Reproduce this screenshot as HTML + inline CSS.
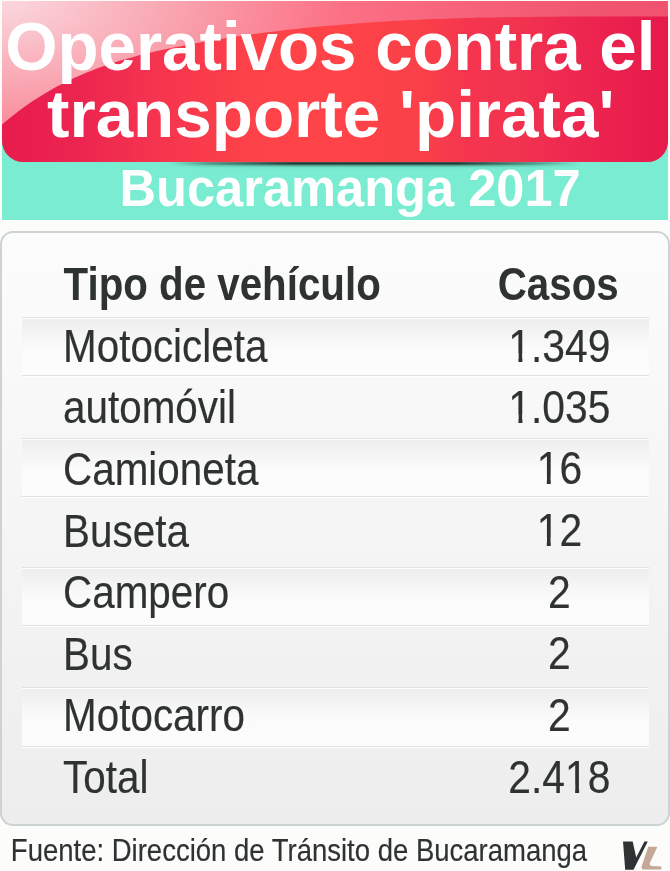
<!DOCTYPE html>
<html>
<head>
<meta charset="utf-8">
<style>
html,body{margin:0;padding:0;}
body{width:670px;height:871px;background:#fcfcfb;position:relative;overflow:hidden;font-family:"Liberation Sans",sans-serif;}
.abs{position:absolute;}
.t{position:absolute;white-space:nowrap;line-height:1;transform-origin:0 0.8467em;}
#teal{left:2px;top:100px;width:666px;height:120px;background:#7aecd2;}
#shadow{left:170px;top:162px;width:410px;height:7px;background:linear-gradient(to bottom, rgba(30,36,36,0.55) 0, rgba(30,36,36,0.95) 1px, rgba(30,40,40,0.85) 2px, rgba(40,90,80,0.5) 3.5px, rgba(60,160,140,0.2) 5px, rgba(122,236,210,0) 7px);-webkit-mask-image:linear-gradient(to right, transparent 0, rgba(0,0,0,0.5) 10%, #000 30%, #000 70%, rgba(0,0,0,0.5) 88%, transparent 100%);}
#tbl{left:0;top:231px;width:670px;height:595px;border:2px solid #cbd4d3;border-radius:13px;background:linear-gradient(#fcfcfc,#f5f5f5 50%,#ededed);box-sizing:border-box;}
.g{position:absolute;left:22px;width:627px;background:linear-gradient(#eeeeee 0,#f0f0f0 6px,#f6f6f6 18px,#fbfbfb 30px,#fcfcfc 100%);}
.ln{position:absolute;left:22px;width:627px;height:1px;background:#e0e2e2;}
.wl{position:absolute;left:22px;width:627px;height:1px;background:#fefefe;}
.one{display:inline-block;clip-path:polygon(0 0,100% 0,100% 0.65em,0.345em 0.65em,0.345em 100%,0.248em 100%,0.248em 0.65em,0 0.65em);}
</style>
</head>
<body>
<div id="teal" class="abs"></div>
<svg class="abs" style="left:0;top:0" width="670" height="175" viewBox="0 0 670 175">
  <defs>
    <linearGradient id="base" gradientUnits="userSpaceOnUse" x1="2" y1="0" x2="668" y2="0">
      <stop offset="0.000" stop-color="#e81c4d"/>
      <stop offset="0.117" stop-color="#ec2550"/>
      <stop offset="0.222" stop-color="#f5334f"/>
      <stop offset="0.372" stop-color="#fd4249"/>
      <stop offset="0.508" stop-color="#fe4448"/>
      <stop offset="0.628" stop-color="#fa4048"/>
      <stop offset="0.703" stop-color="#f5354f"/>
      <stop offset="0.778" stop-color="#f2334f"/>
      <stop offset="0.853" stop-color="#ee2850"/>
      <stop offset="1.000" stop-color="#e6194b"/>
    </linearGradient>
    <radialGradient id="gloss" gradientUnits="userSpaceOnUse" cx="0" cy="0" r="700" gradientTransform="scale(1 0.5)">
      <stop offset="0" stop-color="#fcd8de"/>
      <stop offset="0.12" stop-color="#fac0c9"/>
      <stop offset="0.27" stop-color="#f9a0ac"/>
      <stop offset="0.49" stop-color="#fc7085"/>
      <stop offset="0.86" stop-color="#f0546e"/>
      <stop offset="1" stop-color="#ee5270"/>
    </radialGradient>
  </defs>
  <path d="M2 1 H668 V141.5 A20.5 20.5 0 0 1 647.5 162 H23 A21 21 0 0 1 2 141 Z" fill="url(#base)"/>
  <path d="M2 1 H668 L668 16.5 L662 16.5 L656 16.5 L650 16.5 L644 16.5 L638 16.5 L632 16.5 L626 16.5 L620 16.5 L614 16.5 L608 16.5 L602 16.5 L596 16.5 L590 16.5 L584 16.5 L578 16.5 L572 16.6 L566 16.6 L560 16.6 L554 16.7 L548 16.7 L542 16.7 L536 16.8 L530 16.9 L524 16.9 L518 17.0 L512 17.1 L506 17.2 L500 17.3 L494 17.4 L488 17.5 L482 17.6 L476 17.8 L470 17.9 L464 18.1 L458 18.3 L452 18.5 L446 18.7 L440 18.9 L434 19.1 L428 19.3 L422 19.6 L416 19.9 L410 20.1 L404 20.4 L398 20.8 L392 21.1 L386 21.4 L380 21.8 L374 22.2 L368 22.6 L362 23.0 L356 23.4 L350 23.9 L344 24.4 L338 24.9 L332 25.4 L326 25.9 L320 26.5 L314 27.0 L308 27.6 L302 28.2 L296 28.9 L290 29.6 L284 30.2 L278 31.0 L272 31.7 L266 32.4 L260 33.2 L254 34.0 L248 34.9 L242 35.7 L236 36.6 L230 37.5 L224 38.5 L218 39.4 L212 40.4 L206 41.5 L200 42.5 L194 43.6 L188 44.7 L182 45.9 L176 47.0 L170 48.2 L164 49.5 L158 50.8 L152 52.2 L146 53.6 L140 55.1 L134 56.7 L128 58.4 L122 60.1 L116 62.0 L110 63.9 L104 66.0 L98 68.1 L92 70.4 L86 72.8 L80 75.4 L74 78.1 L68 80.9 L62 83.9 L56 87.1 L50 90.4 L44 93.9 L38 97.7 L32 101.6 L26 105.7 L20 110.1 L14 114.7 L8 119.5 L2 124.5 L2 124.5 Z" fill="url(#gloss)"/>
</svg>
<div id="shadow" class="abs"></div>
<div class="t" style="left:5.14px;top:13.06px;font-size:67.25px;font-weight:bold;transform:scaleY(1.02);color:#fff;">Operativos contra el</div>
<div class="t" style="left:46.98px;top:79.63px;font-size:67.4px;font-weight:bold;color:#fff;">transporte 'pirata'</div>
<div class="t" style="left:119.52px;top:163.96px;font-size:50.6px;font-weight:bold;transform:scaleY(1.02);color:#fff;">Bucaramanga 2017</div>
<div id="tbl" class="abs"></div>
<div class="ln" style="top:317px"></div><div class="wl" style="top:318px"></div>
<div class="g" style="top:319px;height:56px"></div>
<div class="ln" style="top:375px"></div><div class="wl" style="top:376px"></div>
<div class="ln" style="top:438px"></div><div class="wl" style="top:439px"></div>
<div class="g" style="top:440px;height:56px"></div>
<div class="ln" style="top:496px"></div><div class="wl" style="top:497px"></div>
<div class="ln" style="top:567px"></div><div class="wl" style="top:568px"></div>
<div class="g" style="top:569px;height:56px"></div>
<div class="ln" style="top:625px"></div><div class="wl" style="top:626px"></div>
<div class="ln" style="top:687px"></div><div class="wl" style="top:688px"></div>
<div class="g" style="top:689px;height:57px"></div>
<div class="ln" style="top:746px"></div><div class="wl" style="top:747px"></div>
<div class="t" style="left:63.55px;top:266.88px;font-size:40.3px;font-weight:bold;transform:scaleY(1.14);color:#2e3233;">Tipo de vehículo</div>
<div class="t" style="left:408.20px;width:300px;text-align:center;top:266.88px;font-size:40.3px;font-weight:bold;transform:scaleY(1.14);transform-origin:150.0px 0.8467em;color:#2e3233;">Casos</div>
<div class="t" style="left:63.10px;top:327.89px;font-size:40.4px;transform:scaleY(1.154);color:#2e3233;-webkit-text-stroke:0.15px #2e3233;">Motocicleta</div>
<div class="t" style="left:409.40px;width:300px;text-align:center;top:327.55px;font-size:40.8px;transform:scaleY(1.154);transform-origin:150.0px 0.8467em;color:#2e3233;-webkit-text-stroke:0.15px #2e3233;"><span class="one">1</span>.349</div>
<div class="t" style="left:63.10px;top:389.29px;font-size:40.4px;transform:scaleY(1.154);color:#2e3233;-webkit-text-stroke:0.15px #2e3233;">automóvil</div>
<div class="t" style="left:409.40px;width:300px;text-align:center;top:388.95px;font-size:40.8px;transform:scaleY(1.154);transform-origin:150.0px 0.8467em;color:#2e3233;-webkit-text-stroke:0.15px #2e3233;"><span class="one">1</span>.035</div>
<div class="t" style="left:63.10px;top:450.79px;font-size:40.4px;transform:scaleY(1.154);color:#2e3233;-webkit-text-stroke:0.15px #2e3233;">Camioneta</div>
<div class="t" style="left:409.40px;width:300px;text-align:center;top:450.45px;font-size:40.8px;transform:scaleY(1.154);transform-origin:150.0px 0.8467em;color:#2e3233;-webkit-text-stroke:0.15px #2e3233;"><span class="one">1</span>6</div>
<div class="t" style="left:63.10px;top:512.59px;font-size:40.4px;transform:scaleY(1.154);color:#2e3233;-webkit-text-stroke:0.15px #2e3233;">Buseta</div>
<div class="t" style="left:409.40px;width:300px;text-align:center;top:512.25px;font-size:40.8px;transform:scaleY(1.154);transform-origin:150.0px 0.8467em;color:#2e3233;-webkit-text-stroke:0.15px #2e3233;"><span class="one">1</span>2</div>
<div class="t" style="left:63.10px;top:574.49px;font-size:40.4px;transform:scaleY(1.154);color:#2e3233;-webkit-text-stroke:0.15px #2e3233;">Campero</div>
<div class="t" style="left:409.40px;width:300px;text-align:center;top:574.15px;font-size:40.8px;transform:scaleY(1.154);transform-origin:150.0px 0.8467em;color:#2e3233;-webkit-text-stroke:0.15px #2e3233;">2</div>
<div class="t" style="left:63.10px;top:635.79px;font-size:40.4px;transform:scaleY(1.154);color:#2e3233;-webkit-text-stroke:0.15px #2e3233;">Bus</div>
<div class="t" style="left:409.40px;width:300px;text-align:center;top:635.45px;font-size:40.8px;transform:scaleY(1.154);transform-origin:150.0px 0.8467em;color:#2e3233;-webkit-text-stroke:0.15px #2e3233;">2</div>
<div class="t" style="left:63.10px;top:697.49px;font-size:40.4px;transform:scaleY(1.154);color:#2e3233;-webkit-text-stroke:0.15px #2e3233;">Motocarro</div>
<div class="t" style="left:409.40px;width:300px;text-align:center;top:697.15px;font-size:40.8px;transform:scaleY(1.154);transform-origin:150.0px 0.8467em;color:#2e3233;-webkit-text-stroke:0.15px #2e3233;">2</div>
<div class="t" style="left:63.10px;top:759.09px;font-size:40.4px;transform:scaleY(1.154);color:#2e3233;-webkit-text-stroke:0.15px #2e3233;">Total</div>
<div class="t" style="left:409.40px;width:300px;text-align:center;top:758.75px;font-size:40.8px;transform:scaleY(1.154);transform-origin:150.0px 0.8467em;color:#2e3233;-webkit-text-stroke:0.15px #2e3233;">2.4<span class="one">1</span>8</div>
<div class="t" style="left:10.84px;top:837.72px;font-size:27.5px;transform:scaleY(1.17);color:#2e3233;-webkit-text-stroke:0.15px #2e3233;">Fuente: Dirección de Tránsito de Bucaramanga</div>
<svg class="abs" style="left:618px;top:836px" width="52" height="35" viewBox="0 0 52 35">
  <path d="M5 5.4 L14.7 5.4 L18.2 21.6 L26.4 5.4 L29.8 5.4 L15.5 33.8 L7.2 33.8 Z" fill="#2e3233"/>
  <path d="M30.2 10.7 L39.4 10.7 L31.6 27.6 Q31.2 29.6 33.5 29.9 L43.4 30.4 L43.4 33.4 L25 33.4 Q23 33.2 23.6 30.6 Z" fill="#c4a898"/>
</svg>
</body>
</html>
